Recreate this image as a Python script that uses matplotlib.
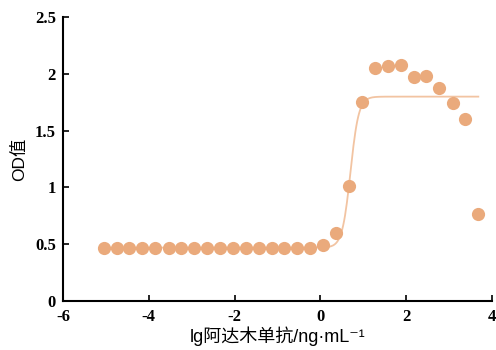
import matplotlib
matplotlib.use("Agg")
import matplotlib.pyplot as plt
import numpy as np

plt.rcParams['font.family'] = ['Liberation Sans', 'Noto Sans CJK SC', 'DejaVu Sans']
plt.rcParams['axes.unicode_minus'] = False

# lg concentration (2-fold dilutions) and OD readings
lg_conc = [-5.05, -4.75, -4.45, -4.15, -3.85, -3.54, -3.24, -2.94, -2.64, -2.34,
           -2.04, -1.74, -1.44, -1.14, -0.84, -0.54, -0.24, 0.06, 0.36, 0.67,
           0.97, 1.27, 1.57, 1.87, 2.17, 2.47, 2.77, 3.08, 3.38, 3.68]
od = [0.47, 0.47, 0.47, 0.465, 0.465, 0.465, 0.47, 0.465, 0.47, 0.47,
      0.465, 0.465, 0.465, 0.47, 0.465, 0.465, 0.47, 0.49, 0.60, 1.015,
      1.755, 2.055, 2.07, 2.075, 1.97, 1.98, 1.88, 1.74, 1.60, 0.77]

# fitted 4-parameter logistic
fit_bottom, fit_top, fit_ec50, fit_hill = 0.47, 1.80, 0.70, 4.5

dot_color = '#EAAA7C'
line_color = '#F2C4A2'

fig = plt.figure(figsize=(4.96, 3.5), dpi=100)
ax = fig.add_axes([0.127, 0.14, 0.865, 0.811])

xf = np.linspace(lg_conc[0], lg_conc[-1], 400)
yf = fit_bottom + (fit_top - fit_bottom) / (1 + 10 ** ((fit_ec50 - xf) * fit_hill))
ax.plot(xf, yf, color=line_color, lw=1.3, zorder=1)
ax.plot(lg_conc, od, 'o', color=dot_color, markersize=9.5, markeredgewidth=0, zorder=2)

ax.set_xlim(-6, 4)
ax.set_ylim(0, 2.5)
ax.set_xticks([-6, -4, -2, 0, 2, 4])
ax.set_yticks([0, 0.5, 1, 1.5, 2, 2.5])
ax.set_yticklabels(['0', '0.5', '1', '1.5', '2', '2.5'])
for s in ['top', 'right']:
    ax.spines[s].set_visible(False)
for s in ['left', 'bottom']:
    ax.spines[s].set_linewidth(1.5)
ax.tick_params(direction='in', length=4, width=1.2, labelsize=12)
ax.tick_params(axis='y', pad=5)
ax.tick_params(axis='x', pad=6)
for lab in ax.get_xticklabels() + ax.get_yticklabels():
    lab.set_family('Liberation Serif')
    lab.set_weight('bold')

ax.set_xlabel('lg阿达木单抗/ng·mL⁻¹', fontsize=13, labelpad=1)
ax.set_ylabel('OD值', fontsize=12.5, labelpad=6)

plt.savefig('out.png', dpi=100)
